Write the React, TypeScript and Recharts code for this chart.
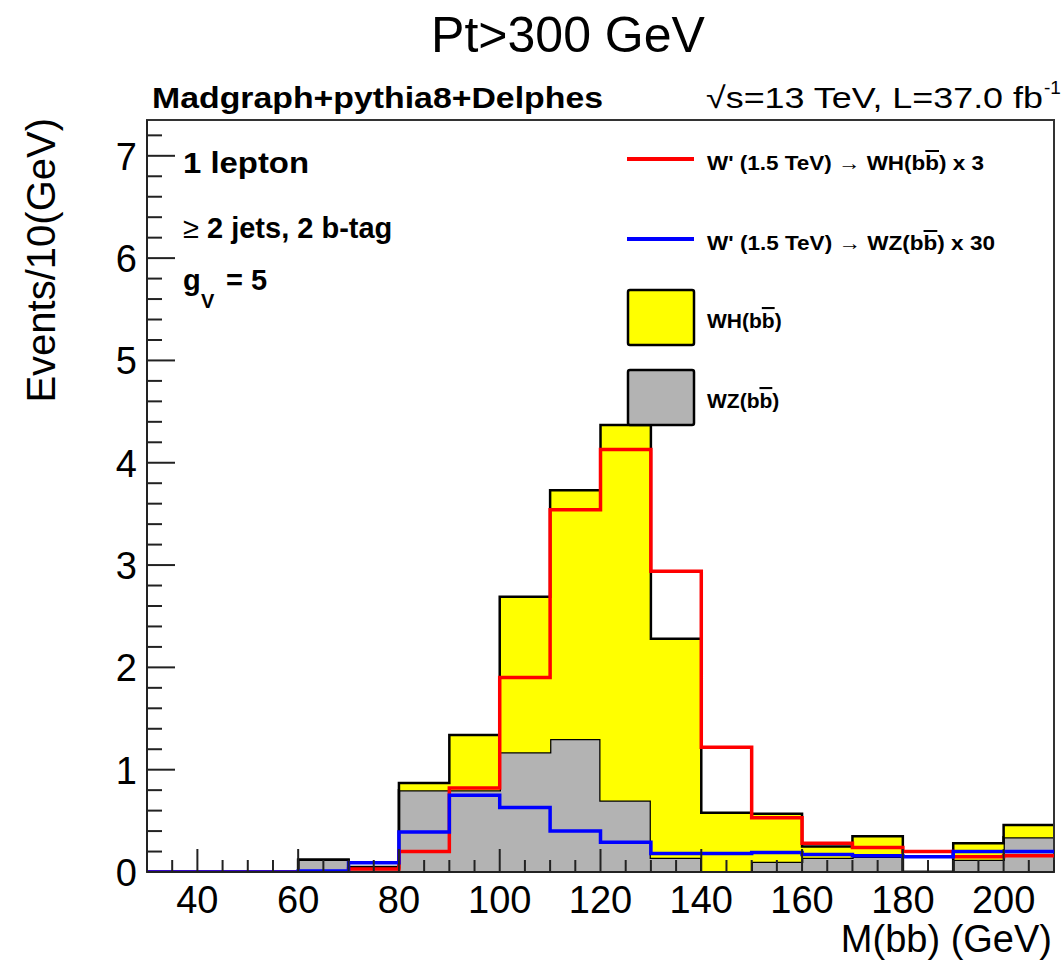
import React from 'react';
import { ComposedChart, Area, Line, XAxis, YAxis, ReferenceArea } from 'recharts';

// left edges of the 10 GeV bins
const binEdges = [30, 40, 50, 60, 70, 80, 90, 100, 110, 120, 130, 140, 150, 160, 170, 180, 190, 200];
const lastEdge = 210;

// stacked backgrounds
const wzBkg = [0, 0, 0, 0.12, 0.04, 0.8, 0.8, 1.17, 1.3, 0.7, 0.14, 0, 0.1, 0.14, 0.15, 0, 0.12, 0.34];
const whBkg = [0, 0, 0, 0, 0.01, 0.07, 0.54, 1.52, 2.43, 3.67, 2.14, 0.58, 0.47, 0.11, 0.2, 0, 0.16, 0.12];

// signal lines
const wprimeWH = [0, 0, 0, 0, 0.03, 0.2, 0.82, 1.9, 3.54, 4.13, 2.94, 1.22, 0.53, 0.28, 0.24, 0.2, 0.15, 0.16];
const wprimeWZ = [0, 0, 0, 0.01, 0.09, 0.39, 0.75, 0.63, 0.4, 0.29, 0.18, 0.18, 0.19, 0.17, 0.16, 0.15, 0.2, 0.2];

const xMajor = [40, 60, 80, 100, 120, 140, 160, 180, 200];
const yMajor = [0, 1, 2, 3, 4, 5, 6, 7];
const xTicks = Array.from({ length: 37 }, (_, i) => 30 + i * 5);
const yTicks = Array.from({ length: 37 }, (_, i) => +(i * 0.2).toFixed(1));

const Y_MAX = 7.35;
const FONT = '"Liberation Sans", Arial, Helvetica, sans-serif';

const rows = binEdges.map((x, i) => ({
  x,
  wz: wzBkg[i],
  wh: whBkg[i],
  sigWH: wprimeWH[i],
  sigWZ: wprimeWZ[i],
}));
const last = rows[rows.length - 1];
const data = [...rows, { ...last, x: lastEdge }];

const XTick = (props: any) => {
  const { x, y, payload } = props;
  const major = xMajor.includes(payload.value);
  return (
    <g>
      <line x1={x} x2={x} y1={y} y2={y - (major ? 23 : 12)} stroke="#222" strokeWidth={2} />
      {major && (
        <text x={x} y={y + 41} textAnchor="middle" fontSize={38} fontFamily={FONT} fill="#000">
          {payload.value}
        </text>
      )}
    </g>
  );
};

const YTick = (props: any) => {
  const { x, y, payload } = props;
  const major = yMajor.includes(payload.value);
  return (
    <g>
      <line x1={x} x2={x + (major ? 28 : 15)} y1={y} y2={y} stroke="#222" strokeWidth={2} />
      {major && (
        <text x={x - 10} y={y + 14} textAnchor="end" fontSize={38} fontFamily={FONT} fill="#000">
          {payload.value}
        </text>
      )}
    </g>
  );
};

const bbBar = (
  <>
    (b<tspan style={{ textDecoration: 'overline' }}>b</tspan>)
  </>
);

const legendLines = [
  { color: '#ff0000', y: 159, label: 'WH', scale: 'x 3', end: 984 },
  { color: '#0000ff', y: 239, label: 'WZ', scale: 'x 30', end: 995 },
];
const legendBoxes = [
  { color: '#ffff00', y: 290, label: 'WH', end: 787 },
  { color: '#b3b3b3', y: 370, label: 'WZ', end: 784 },
];

export default function App() {
  return (
    <div style={{ position: 'absolute', left: 0, top: 0, width: 1064, height: 963, background: '#fff' }}>
      <ComposedChart width={1064} height={963} data={data} margin={{ top: 120, right: 10, bottom: 31, left: 87 }}>
        <Area
          type="stepAfter"
          dataKey="wz"
          stackId="bkg"
          fill="#b3b3b3"
          fillOpacity={1}
          stroke="#000"
          strokeWidth={2.5}
          dot={false}
          activeDot={false}
          isAnimationActive={false}
        />
        <Area
          type="stepAfter"
          dataKey="wh"
          stackId="bkg"
          fill="#ffff00"
          fillOpacity={1}
          stroke="#000"
          strokeWidth={2.5}
          dot={false}
          activeDot={false}
          isAnimationActive={false}
        />
        <Line type="stepAfter" dataKey="sigWH" stroke="#ff0000" strokeWidth={3.5} dot={false} activeDot={false} isAnimationActive={false} />
        <Line type="stepAfter" dataKey="sigWZ" stroke="#0000ff" strokeWidth={3.5} dot={false} activeDot={false} isAnimationActive={false} />
        <XAxis
          dataKey="x"
          type="number"
          domain={[30, 210]}
          ticks={xTicks}
          interval={0}
          height={60}
          tickSize={0}
          tickMargin={0}
          tick={<XTick />}
          axisLine={{ stroke: '#222', strokeWidth: 2 }}
          allowDataOverflow
        />
        <YAxis
          type="number"
          domain={[0, Y_MAX]}
          ticks={yTicks}
          interval={0}
          width={60}
          tickSize={0}
          tickMargin={0}
          tick={<YTick />}
          axisLine={{ stroke: '#222', strokeWidth: 2 }}
          allowDataOverflow
        />
        <ReferenceArea x1={30} x2={210} y1={0} y2={Y_MAX} fill="none" stroke="#333" strokeWidth={2} ifOverflow="visible" />
      </ComposedChart>

      <svg width={1064} height={963} style={{ position: 'absolute', left: 0, top: 0, pointerEvents: 'none' }} fontFamily={FONT}>
        <text x={568} y={52} textAnchor="middle" fontSize={50}>Pt&gt;300 GeV</text>
        <text x={152} y={108} fontSize={30} fontWeight="bold" textLength={451} lengthAdjust="spacingAndGlyphs">
          Madgraph+pythia8+Delphes
        </text>
        <text x={706} y={108} fontSize={30} textLength={337} lengthAdjust="spacingAndGlyphs">
          √s=13 TeV, L=37.0 fb
        </text>
        <text x={1044} y={94} fontSize={19}>-1</text>

        <text transform="translate(55,118) rotate(-90)" textAnchor="end" fontSize={40}>Events/10(GeV)</text>
        <text x={1052} y={952} textAnchor="end" fontSize={38}>M(bb) (GeV)</text>

        <text x={183} y={173} fontSize={29} fontWeight="bold" textLength={126} lengthAdjust="spacingAndGlyphs">1 lepton</text>
        <text x={183} y={238} fontSize={29} fontWeight="bold">
          <tspan fontWeight="normal">≥</tspan> 2 jets, 2 b-tag
        </text>
        <text x={183} y={290} fontSize={29} fontWeight="bold">g</text>
        <text x={201} y={308} fontSize={20} fontWeight="bold">V</text>
        <text x={226} y={290} fontSize={29} fontWeight="bold">= 5</text>

        {legendLines.map((l) => (
          <g key={l.label}>
            <line x1={627} x2={694} y1={l.y} y2={l.y} stroke={l.color} strokeWidth={4} />
            <text x={707} y={l.y + 11} fontSize={20} fontWeight="bold" textLength={l.end - 707} lengthAdjust="spacingAndGlyphs">
              W' (1.5 TeV) <tspan fontWeight="normal">→</tspan> {l.label}
              {bbBar} {l.scale}
            </text>
          </g>
        ))}
        {legendBoxes.map((b) => (
          <g key={b.label}>
            <rect x={628} y={b.y} width={66} height={55} rx={2} fill={b.color} stroke="#000" strokeWidth={2.5} />
            <text x={707} y={b.y + 38} fontSize={21} fontWeight="bold">
              {b.label}
              {bbBar}
            </text>
          </g>
        ))}
      </svg>
    </div>
  );
}
